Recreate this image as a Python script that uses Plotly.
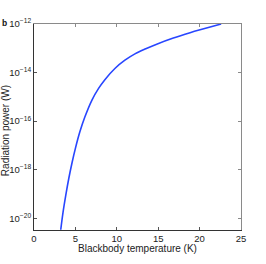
import plotly.graph_objects as go

# Blackbody temperature (K) and radiation power (W)
temperature = [3.23, 3.51, 3.84, 4.2, 4.6, 5.0, 5.53, 6.14, 7.0, 7.8, 8.56, 9.77,
               10.98, 12.19, 13.5, 14.82, 16.83, 18.85, 20.06, 22.6]
log_power = [-20.47, -19.74, -19.04, -18.36, -17.70, -17.12, -16.45, -15.83, -15.13, -14.65,
             -14.29, -13.83, -13.49, -13.23, -13.02, -12.83, -12.58, -12.36, -12.24, -12.0]
power = [10 ** v for v in log_power]

x_ticks = [0, 5, 10, 15, 20, 25]
y_tick_vals = [1e-20, 1e-18, 1e-16, 1e-14, 1e-12]
y_tick_text = ["10<sup>−20</sup>", "10<sup>−18</sup>", "10<sup>−16</sup>", "10<sup>−14</sup>", "10<sup>−12</sup>"]

x_title = "Blackbody temperature (K)"
y_title = "Radiation power (W)"
panel_label = "b"

FONT = "Liberation Sans, Arial, sans-serif"

fig = go.Figure()
fig.add_trace(go.Scatter(
    x=temperature, y=power, mode="lines",
    line=dict(color="rgb(40,70,255)", width=1.6, shape="spline", smoothing=1.0),
    showlegend=False, hoverinfo="skip",
))
# invisible trace on the mirrored (top/right) axes so they are drawn
fig.add_trace(go.Scatter(x=[0, 25], y=[1e-20, 1e-12], xaxis="x2", yaxis="y2",
                         mode="lines", line=dict(width=0), opacity=0,
                         showlegend=False, hoverinfo="skip"))

common = dict(showgrid=False, zeroline=False, showline=True, linewidth=1,
              ticks="inside", ticklen=3, automargin=False)

fig.update_layout(
    width=266, height=264,
    margin=dict(l=34, r=25, t=24, b=34),
    paper_bgcolor="white", plot_bgcolor="white",
    font=dict(family=FONT, color="#222", size=10),
    xaxis=dict(range=[0, 25], tickvals=x_ticks, linecolor="#333", tickcolor="#555",
               tickfont=dict(size=9.5, color="#222"), **common),
    yaxis=dict(type="log", range=[-20.48, -12], tickvals=y_tick_vals, ticktext=y_tick_text,
               linecolor="#333", tickcolor="#555",
               tickfont=dict(size=9.5, color="#222"), **common),
    xaxis2=dict(range=[0, 25], tickvals=x_ticks, overlaying="x", side="top", anchor="y2",
                showticklabels=False, linecolor="#8a8a8a", tickcolor="#8a8a8a", **common),
    yaxis2=dict(type="log", range=[-20.48, -12], tickvals=y_tick_vals, overlaying="y",
                side="right", anchor="x2", showticklabels=False,
                linecolor="#8a8a8a", tickcolor="#8a8a8a", **common),
    annotations=[
        dict(text=x_title, xref="paper", yref="paper", x=0.5, y=-0.092,
             xanchor="center", yanchor="middle", showarrow=False,
             font=dict(size=10, color="#222")),
        dict(text=y_title, xref="paper", yref="paper", x=-0.14, y=0.48, textangle=-90,
             xanchor="center", yanchor="middle", showarrow=False,
             font=dict(size=10, color="#222")),
        dict(text="<b>" + panel_label + "</b>", xref="paper", yref="paper", x=-0.166, y=1.005,
             xanchor="left", yanchor="middle", showarrow=False,
             font=dict(size=8.5, color="#111")),
    ],
)

fig.write_html("out.html", config={"displayModeBar": False},
               post_script="document.body.style.margin='0';")
